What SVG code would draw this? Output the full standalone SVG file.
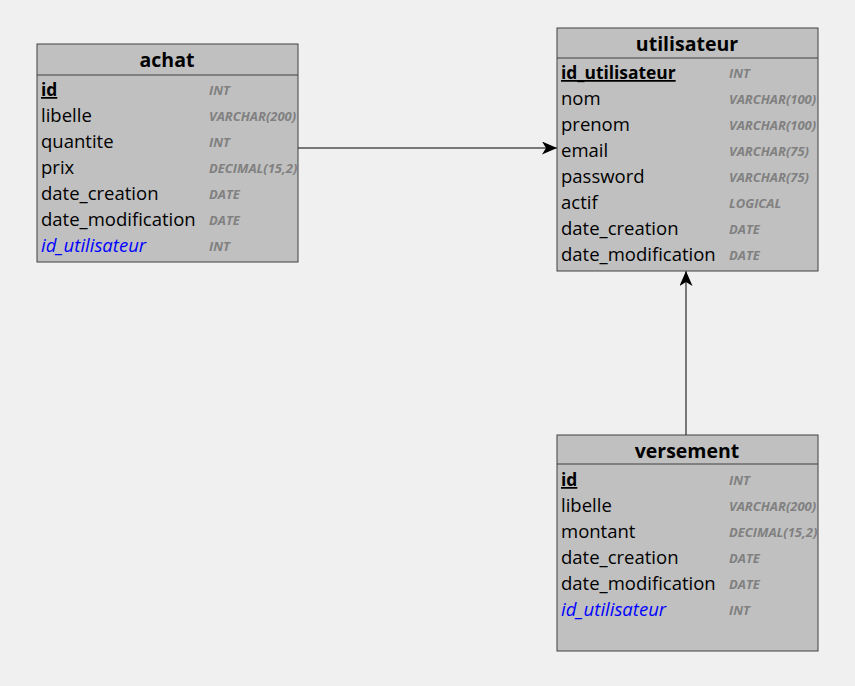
<svg xmlns="http://www.w3.org/2000/svg" width="855" height="686" viewBox="0 0 855 686">
<defs>
<style>
.box{fill:#c0c0c0;stroke:#404040;stroke-width:1}
.sep{stroke:#404040;stroke-width:1}
.title{font-family:"Open Sans","Liberation Sans",sans-serif;font-size:19.5px;font-weight:bold;fill:#000;text-anchor:middle}
.f{font-family:"Open Sans","Liberation Sans",sans-serif;font-size:18.5px;fill:#000}
.pk{font-weight:bold;text-decoration:underline;font-size:17.4px}
.fk{font-style:italic;fill:#0000ff}
.t{font-family:"Open Sans","Liberation Sans",sans-serif;font-size:13px;font-weight:bold;font-style:italic;fill:#808080}
.conn{stroke:#000;stroke-width:1;fill:none}
</style>
<marker id="arr" viewBox="0 0 15 13" refX="15" refY="6.5" markerWidth="15" markerHeight="13" markerUnits="userSpaceOnUse" orient="auto">
<path d="M0,0 L15,6.5 L0,13 L4,6.5 Z" fill="#000"/>
</marker>
<clipPath id="cA"><rect x="37" y="44" width="261" height="218"/></clipPath>
<clipPath id="cU"><rect x="557" y="28" width="261" height="243"/></clipPath>
<clipPath id="cV"><rect x="557" y="435" width="261" height="216"/></clipPath>
</defs>
<rect width="855" height="686" fill="#f0f0f0"/>
<g id="connectors">
<line class="conn" x1="298" y1="148" x2="557" y2="148" marker-end="url(#arr)"/>
<line class="conn" x1="686" y1="435" x2="686" y2="271" marker-end="url(#arr)"/>
</g>
<g id="achat">
<rect class="box" x="37" y="44" width="261" height="218"/>
<line class="sep" x1="37" y1="75" x2="298" y2="75"/>
<text class="title" x="167" y="67">achat</text>
<g clip-path="url(#cA)">
<text class="f pk" x="41" y="96">id</text><text class="t" x="209" y="95">INT</text>
<text class="f" x="41" y="122">libelle</text><text class="t" x="209" y="121">VARCHAR(200)</text>
<text class="f" x="41" y="148">quantite</text><text class="t" x="209" y="147">INT</text>
<text class="f" x="41" y="174">prix</text><text class="t" x="209" y="173">DECIMAL(15,2)</text>
<text class="f" x="41" y="200">date_creation</text><text class="t" x="209" y="199">DATE</text>
<text class="f" x="41" y="226">date_modification</text><text class="t" x="209" y="225">DATE</text>
<text class="f fk" x="41" y="252">id_utilisateur</text><text class="t" x="209" y="251">INT</text>
</g>
</g>
<g id="utilisateur">
<rect class="box" x="557" y="28" width="261" height="243"/>
<line class="sep" x1="557" y1="58" x2="818" y2="58"/>
<text class="title" x="687" y="51">utilisateur</text>
<g clip-path="url(#cU)">
<text class="f pk" x="561" y="79">id_utilisateur</text><text class="t" x="729" y="78">INT</text>
<text class="f" x="561" y="105">nom</text><text class="t" x="729" y="104">VARCHAR(100)</text>
<text class="f" x="561" y="131">prenom</text><text class="t" x="729" y="130">VARCHAR(100)</text>
<text class="f" x="561" y="157">email</text><text class="t" x="729" y="156">VARCHAR(75)</text>
<text class="f" x="561" y="183">password</text><text class="t" x="729" y="182">VARCHAR(75)</text>
<text class="f" x="561" y="209">actif</text><text class="t" x="729" y="208">LOGICAL</text>
<text class="f" x="561" y="235">date_creation</text><text class="t" x="729" y="234">DATE</text>
<text class="f" x="561" y="261">date_modification</text><text class="t" x="729" y="260">DATE</text>
</g>
</g>
<g id="versement">
<rect class="box" x="557" y="435" width="261" height="216"/>
<line class="sep" x1="557" y1="464" x2="818" y2="464"/>
<text class="title" x="687" y="458">versement</text>
<g clip-path="url(#cV)">
<text class="f pk" x="561" y="486">id</text><text class="t" x="729" y="485">INT</text>
<text class="f" x="561" y="512">libelle</text><text class="t" x="729" y="511">VARCHAR(200)</text>
<text class="f" x="561" y="538">montant</text><text class="t" x="729" y="537">DECIMAL(15,2)</text>
<text class="f" x="561" y="564">date_creation</text><text class="t" x="729" y="563">DATE</text>
<text class="f" x="561" y="590">date_modification</text><text class="t" x="729" y="589">DATE</text>
<text class="f fk" x="561" y="616">id_utilisateur</text><text class="t" x="729" y="615">INT</text>
</g>
</g>
</svg>
